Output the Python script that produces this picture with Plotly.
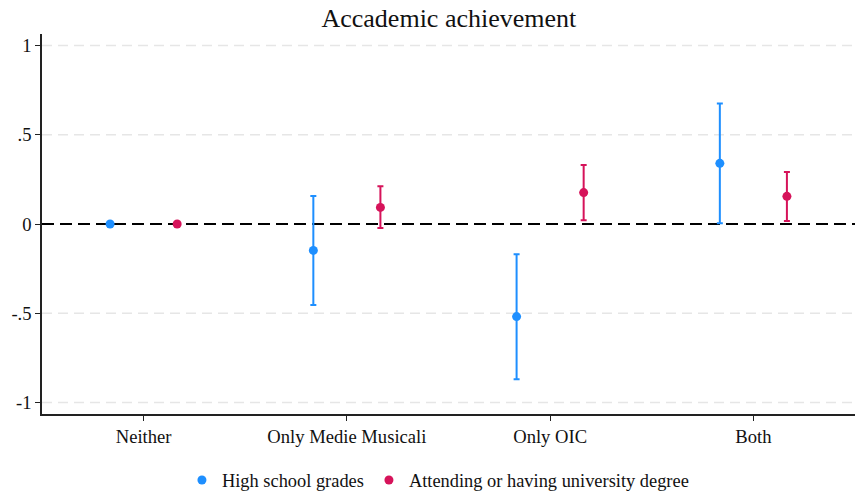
import plotly.graph_objects as go

categories = ["Neither", "Only Medie Musicali", "Only OIC", "Both"]
hs_est = [0.0, -0.148, -0.519, 0.340]
hs_lo = [0.0, -0.454, -0.870, 0.004]
hs_hi = [0.0, 0.157, -0.170, 0.676]
uni_est = [0.0, 0.093, 0.176, 0.155]
uni_lo = [0.0, -0.022, 0.021, 0.017]
uni_hi = [0.0, 0.211, 0.331, 0.291]
yticks = [-1, -0.5, 0, 0.5, 1]
yticklabels = ["-1", "-.5", "0", ".5", "1"]

pos = list(range(1, len(categories) + 1))
off = 0.165
blue = "#1E8FFF"
red = "#D6135A"
font = "Liberation Serif, Times New Roman, serif"

fig = go.Figure()
def add(est, lo, hi, shift, color, name):
    fig.add_trace(go.Scatter(
        x=[p + shift for p in pos], y=est, mode="markers", name=name,
        marker=dict(color=color, size=9),
        error_y=dict(type="data", symmetric=False,
                     array=[h - e for h, e in zip(hi, est)],
                     arrayminus=[e - l for e, l in zip(est, lo)],
                     color=color, thickness=2, width=3),
    ))
add(hs_est, hs_lo, hs_hi, -off, blue, "High school grades")
add(uni_est, uni_lo, uni_hi, off, red, "Attending or having university degree")

# light dashed gridlines (except at zero, where the reference line sits)
for v in yticks:
    if v != 0:
        fig.add_shape(type="line", xref="paper", x0=0, x1=1, yref="y", y0=v, y1=v,
                      line=dict(color="#E6E6E6", width=1.5, dash="10px,6px"), layer="below")
fig.add_shape(type="line", xref="paper", x0=0, x1=1, yref="y", y0=0, y1=0,
              line=dict(color="black", width=2, dash="12px,6px"), layer="below")

fig.update_layout(
    width=855, height=491,
    margin=dict(l=42, r=0, t=34, b=77, autoexpand=False),
    paper_bgcolor="white", plot_bgcolor="white",
    font=dict(family=font, size=18, color="#111"),
    title=dict(text="Accademic achievement", x=0.525, xanchor="center",
               yref="container", y=0.963, yanchor="middle",
               font=dict(family=font, size=26, color="#111")),
    showlegend=True,
    legend=dict(orientation="h", x=0.487, xanchor="center", yref="container", y=0.0224, yanchor="middle",
                font=dict(family=font, size=18.4), itemsizing="trace", itemwidth=30),
    xaxis=dict(range=[0.5, 4.5], tickvals=pos, ticktext=categories, automargin=False,
               showgrid=False, zeroline=False, showline=True, linecolor="#222", linewidth=1.5,
               ticks="outside", ticklen=5, tickcolor="#222", tickfont=dict(size=18.6)),
    yaxis=dict(range=[-1.065, 1.065], tickvals=yticks, ticktext=yticklabels, automargin=False,
               showgrid=False, zeroline=False, showline=True, linecolor="#222", linewidth=1.5,
               ticks="outside", ticklen=5, tickcolor="#222", tickfont=dict(size=18.6)),
)
fig.write_html("out.html", config={"displayModeBar": False},
               post_script="document.body.style.margin='0';document.body.style.overflow='hidden';")
